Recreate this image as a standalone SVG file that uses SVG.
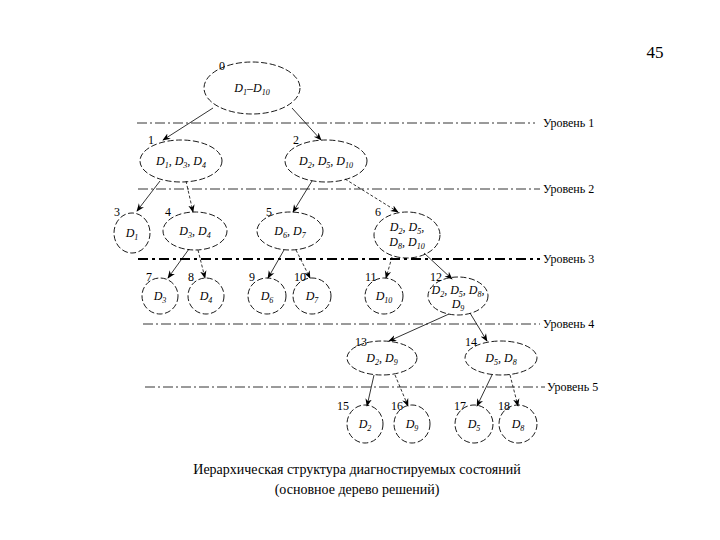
<svg xmlns="http://www.w3.org/2000/svg" width="720" height="540" viewBox="0 0 720 540">
<style>
.n{fill:none;stroke:#000;stroke-width:0.9;stroke-dasharray:6 2.5}
.t{font-family:"Liberation Serif","DejaVu Serif",serif;font-style:italic;font-size:12px;text-anchor:middle;fill:#000}
.s{font-size:8px;baseline-shift:-3px}
.l{font-family:"Liberation Serif","DejaVu Serif",serif;font-size:12px;fill:#000}
.lv{stroke:#000;stroke-width:0.8;stroke-dasharray:10 3 2 3;fill:none}
.lv3{stroke:#000;stroke-width:2;stroke-dasharray:10 4 3 4;fill:none}
.lt{font-family:"Liberation Serif","DejaVu Serif",serif;font-size:12px;fill:#000}
.c{stroke:#000;stroke-width:0.8;fill:none;marker-end:url(#a)}
.cd{stroke:#000;stroke-width:0.8;fill:none;stroke-dasharray:3 2;marker-end:url(#a)}
.cap{font-family:"Liberation Serif","DejaVu Serif",serif;font-size:14px;text-anchor:middle;fill:#000}
</style>
<defs>
<marker id="a" viewBox="0 0 10 10" refX="9" refY="5" markerWidth="8" markerHeight="8" markerUnits="userSpaceOnUse" orient="auto">
<path d="M0,1 L10,5 L0,9 L3,5 Z" fill="#000"/>
</marker>
</defs>
<text x="655" y="58" style="font-family:'Liberation Serif',serif;font-size:17px" text-anchor="middle">45</text>
<g id="levels">
<line class="lv" x1="137" y1="123" x2="535" y2="123"/>
<text class="lt" x="543" y="127">Уровень 1</text>
<line class="lv" x1="138" y1="189" x2="540" y2="189"/>
<text class="lt" x="543" y="193">Уровень 2</text>
<line class="lv3" x1="138" y1="259" x2="540" y2="259"/>
<text class="lt" x="543" y="263">Уровень 3</text>
<line class="lv" x1="143" y1="324" x2="540" y2="324"/>
<text class="lt" x="543" y="328">Уровень 4</text>
<line class="lv" x1="145" y1="387" x2="545" y2="387"/>
<text class="lt" x="547" y="391">Уровень 5</text>
</g>
<g id="connectors">
<line class="c" x1="213" y1="108" x2="163" y2="140"/>
<line class="c" x1="292" y1="108" x2="321" y2="140"/>
<line class="c" x1="160" y1="181" x2="137" y2="211"/>
<line class="cd" x1="186" y1="181" x2="193" y2="212"/>
<line class="c" x1="312" y1="181" x2="293" y2="212"/>
<line class="cd" x1="345" y1="179" x2="398" y2="212"/>
<line class="c" x1="189" y1="249" x2="168" y2="278"/>
<line class="cd" x1="198" y1="250" x2="205" y2="278"/>
<line class="c" x1="284" y1="250" x2="268" y2="278"/>
<line class="cd" x1="296" y1="250" x2="310" y2="278"/>
<line class="cd" x1="392" y1="257" x2="386" y2="278"/>
<line class="c" x1="424" y1="253" x2="452" y2="279"/>
<line class="c" x1="449" y1="314" x2="389" y2="341"/>
<line class="c" x1="470" y1="313" x2="487" y2="341"/>
<line class="c" x1="374" y1="375" x2="367" y2="406"/>
<line class="cd" x1="395" y1="375" x2="408" y2="406"/>
<line class="c" x1="492" y1="375" x2="477" y2="406"/>
<line class="cd" x1="510" y1="375" x2="518" y2="406"/>
</g>
<g id="n0"><ellipse class="n" cx="252" cy="88" rx="48" ry="26"/><text class="l" x="219" y="70">0</text><text class="t" x="252" y="92">D<tspan class="s">1</tspan>–D<tspan class="s">10</tspan></text></g>
<g id="n1"><ellipse class="n" cx="181" cy="161" rx="41" ry="21"/><text class="l" x="148" y="144">1</text><text class="t" x="181" y="165">D<tspan class="s">1</tspan>, D<tspan class="s">3</tspan>, D<tspan class="s">4</tspan></text></g>
<g id="n2"><ellipse class="n" cx="326" cy="161" rx="41" ry="21"/><text class="l" x="293" y="144">2</text><text class="t" x="326" y="165">D<tspan class="s">2</tspan>, D<tspan class="s">5</tspan>, D<tspan class="s">10</tspan></text></g>
<g id="n3"><ellipse class="n" cx="132" cy="233" rx="18" ry="20"/><text class="l" x="114" y="216">3</text><text class="t" x="132" y="237">D<tspan class="s">1</tspan></text></g>
<g id="n4"><ellipse class="n" cx="195" cy="231" rx="32" ry="19"/><text class="l" x="165" y="216">4</text><text class="t" x="195" y="235">D<tspan class="s">3</tspan>, D<tspan class="s">4</tspan></text></g>
<g id="n5"><ellipse class="n" cx="290" cy="231" rx="33" ry="19"/><text class="l" x="266" y="216">5</text><text class="t" x="290" y="235">D<tspan class="s">6</tspan>, D<tspan class="s">7</tspan></text></g>
<g id="n6"><ellipse class="n" cx="407" cy="235" rx="33" ry="23"/><text class="l" x="375" y="216">6</text><text class="t" x="407" y="231">D<tspan class="s">2</tspan>, D<tspan class="s">5</tspan>,</text><text class="t" x="407" y="246">D<tspan class="s">8</tspan>, D<tspan class="s">10</tspan></text></g>
<g id="n7"><ellipse class="n" cx="160" cy="296" rx="18" ry="18"/><text class="l" x="146" y="281">7</text><text class="t" x="160" y="300">D<tspan class="s">3</tspan></text></g>
<g id="n8"><ellipse class="n" cx="206" cy="296" rx="18" ry="18"/><text class="l" x="188" y="281">8</text><text class="t" x="206" y="300">D<tspan class="s">4</tspan></text></g>
<g id="n9"><ellipse class="n" cx="267" cy="296" rx="19" ry="18"/><text class="l" x="249" y="281">9</text><text class="t" x="267" y="300">D<tspan class="s">6</tspan></text></g>
<g id="n10"><ellipse class="n" cx="312" cy="296" rx="19" ry="18"/><text class="l" x="294" y="281">10</text><text class="t" x="312" y="300">D<tspan class="s">7</tspan></text></g>
<g id="n11"><ellipse class="n" cx="384" cy="296" rx="19" ry="18"/><text class="l" x="365" y="281">11</text><text class="t" x="384" y="300">D<tspan class="s">10</tspan></text></g>
<g id="n12"><ellipse class="n" cx="458" cy="296" rx="30" ry="19"/><text class="l" x="430" y="281">12</text><text class="t" x="458" y="294">D<tspan class="s">2</tspan>, D<tspan class="s">5</tspan>, D<tspan class="s">8</tspan>,</text><text class="t" x="458" y="308">D<tspan class="s">9</tspan></text></g>
<g id="n13"><ellipse class="n" cx="382" cy="358" rx="35" ry="17"/><text class="l" x="355" y="346">13</text><text class="t" x="382" y="362">D<tspan class="s">2</tspan>, D<tspan class="s">9</tspan></text></g>
<g id="n14"><ellipse class="n" cx="501" cy="358" rx="36" ry="17"/><text class="l" x="465" y="346">14</text><text class="t" x="501" y="362">D<tspan class="s">5</tspan>, D<tspan class="s">8</tspan></text></g>
<g id="n15"><ellipse class="n" cx="365" cy="424" rx="18" ry="19"/><text class="l" x="337" y="410">15</text><text class="t" x="365" y="428">D<tspan class="s">2</tspan></text></g>
<g id="n16"><ellipse class="n" cx="412" cy="424" rx="18" ry="19"/><text class="l" x="391" y="410">16</text><text class="t" x="412" y="428">D<tspan class="s">9</tspan></text></g>
<g id="n17"><ellipse class="n" cx="474" cy="424" rx="19" ry="19"/><text class="l" x="454" y="410">17</text><text class="t" x="474" y="428">D<tspan class="s">5</tspan></text></g>
<g id="n18"><ellipse class="n" cx="518" cy="424" rx="19" ry="19"/><text class="l" x="498" y="410">18</text><text class="t" x="518" y="428">D<tspan class="s">8</tspan></text></g>
<text class="cap" x="357" y="474">Иерархическая структура диагностируемых состояний</text>
<text class="cap" x="357" y="494">(основное дерево решений)</text>
</svg>
